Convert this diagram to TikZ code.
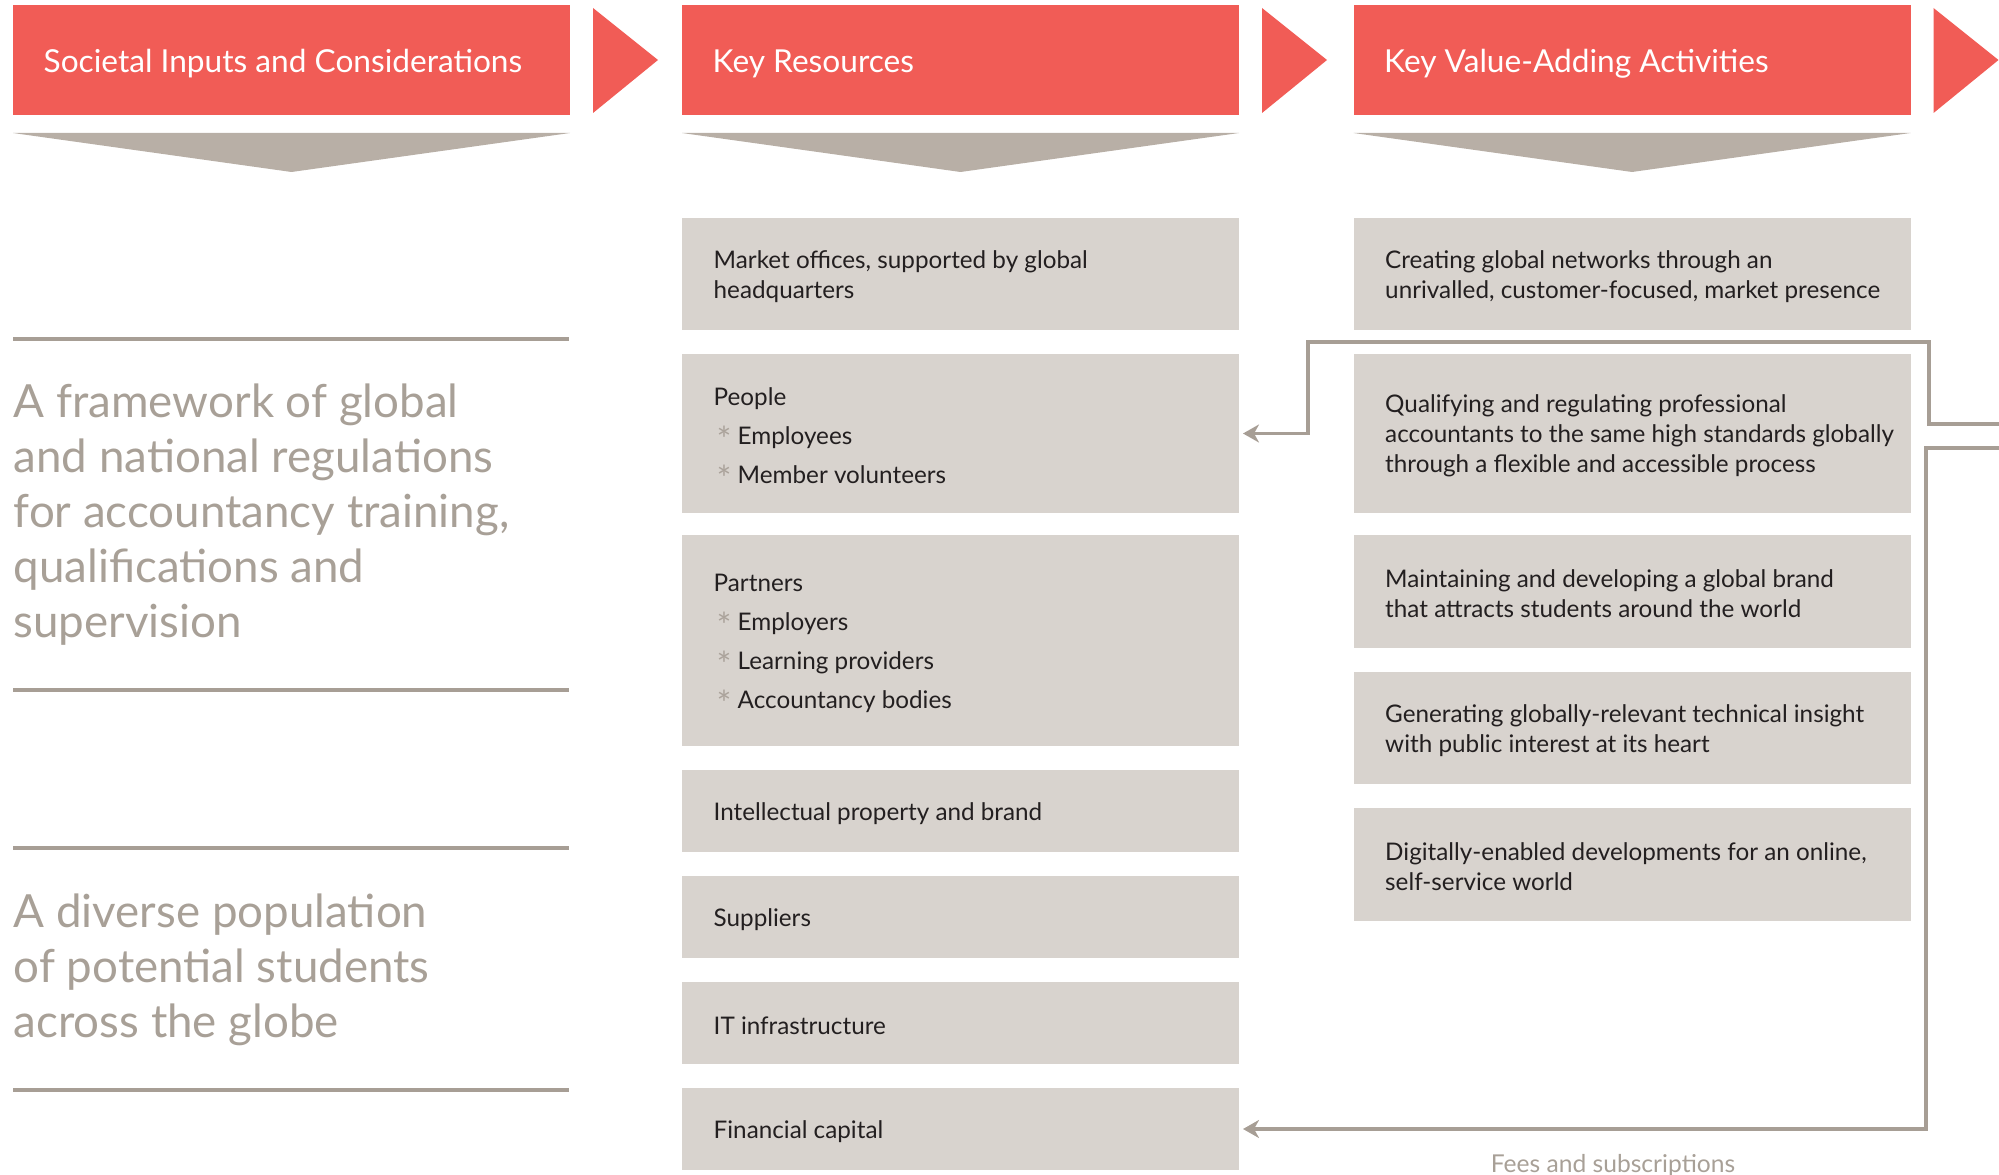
\documentclass[tikz,border=0pt]{standalone}
\usepackage{fontspec}
\setmainfont{Lato}
\usetikzlibrary{arrows.meta,calc,positioning}
\definecolor{headred}{HTML}{F15C56}
\definecolor{boxgrey}{HTML}{D8D3CE}
\definecolor{tricol}{HTML}{B8AFA6}
\definecolor{rulegrey}{HTML}{A79E95}
\definecolor{softgrey}{HTML}{A8A097}
\definecolor{bulletgrey}{HTML}{ABA39B}
\definecolor{ink}{HTML}{231F20}
\newcommand\starbullet{\hspace*{0.3mm}\makebox[2.1mm][l]{\raisebox{-0.65ex}[0pt][0pt]{\textcolor{bulletgrey}{\fontsize{10}{10}\selectfont *}}}}
\tikzset{
  headbox/.style={fill=headred, minimum width=55.7mm, minimum height=11mm, inner sep=0pt, outer sep=0pt},
  headtext/.style={anchor=west, xshift=3mm, yshift=-0.4mm, inner sep=0pt, text=white, font=\fontsize{9}{10}\selectfont},
  cell/.style={fill=boxgrey, minimum width=55.7mm, inner sep=0pt, outer sep=0pt},
  celltext/.style={anchor=west, xshift=3.1mm, yshift=-0.25mm, align=left, inner sep=0pt, text=ink, font=\fontsize{6.9}{8.5}\selectfont},
  listtext/.style={celltext, yshift=0mm, font=\fontsize{6.9}{11.1}\selectfont},
  bigtext/.style={anchor=base west, align=left, inner sep=0pt, text=softgrey, font=\fontsize{13}{15.6}\selectfont},
  rule/.style={draw=rulegrey, line width=0.4mm},
  flow/.style={draw=rulegrey, line width=0.35mm, shorten >=0.4mm, -{Stealth[length=1.6mm,width=1.8mm,inset=0.5mm]}},
}
\begin{document}
\begin{tikzpicture}[x=0.1mm, y=-0.1mm]
  \useasboundingbox (0,0) rectangle (1999,1174);

  %% the three column heads
  \node[headbox] (hsoc) at (291.5,60) {};
  \node[headbox] (hres) at (960.5,60) {};
  \node[headbox] (hval) at (1632,60) {};
  \node[headtext] (hsoct) at (hsoc.west) {Societal Inputs and Considerations};
  \node[headtext] (hrest) at (hres.west) {Key Resources};
  \node[headtext] (hvalt) at (hval.west) {Key Value-Adding Activities};
  \foreach \h in {hsoc,hres,hval}{
    \fill[headred] ($(\h.north east)+(23,3)$) -- ($(\h.east)+(88,0)$) -- ($(\h.south east)+(23,-2)$) -- cycle;
    \fill[tricol] ($(\h.south west)+(0,18)$) -- ($(\h.south east)+(0,18)$) -- ($(\h.south)+(0,57)$) -- cycle;
  }

  %% left column (anchor sits on the last line)
  \foreach \y in {339,690,848,1090}
    \draw[rule] (13,\y) -- (569,\y);
  \node[bigtext] (regs) at (13,637) {A framework of global\\and national regulations\\for accountancy training,\\qualifications and\\supervision};
  \node[bigtext] (pop) at (13,1037) {A diverse population\\of potential students\\across the globe};

  %% key resources
  \node[cell, minimum height=11.2mm] (res1) at (960.5,274) {};
  \node[cell, minimum height=15.9mm, below=2.4mm of res1] (res2) {};
  \node[cell, minimum height=21.1mm, below=2.2mm of res2] (res3) {};
  \node[cell, minimum height=8.2mm, below=2.4mm of res3] (res4) {};
  \node[cell, minimum height=8.2mm, below=2.4mm of res4] (res5) {};
  \node[cell, minimum height=8.2mm, below=2.4mm of res5] (res6) {};
  \node[cell, minimum height=8.2mm, below=2.4mm of res6] (res7) {};
  \node[celltext] (res1t) at (res1.west) {Market offices, supported by global\\headquarters};
  \node[listtext] (res2t) at (res2.west) {People\\\starbullet Employees\\\starbullet Member volunteers};
  \node[listtext] (res3t) at (res3.west) {Partners\\\starbullet Employers\\\starbullet Learning providers\\\starbullet Accountancy bodies};
  \node[celltext] (res4t) at (res4.west) {Intellectual property and brand};
  \node[celltext] (res5t) at (res5.west) {Suppliers};
  \node[celltext] (res6t) at (res6.west) {IT infrastructure};
  \node[celltext] (res7t) at (res7.west) {Financial capital};

  %% key value-adding activities
  \node[cell, minimum height=11.2mm] (act1) at (1632,274) {};
  \node[cell, minimum height=15.9mm, below=2.4mm of act1] (act2) {};
  \node[cell, minimum height=11.3mm, below=2.2mm of act2] (act3) {};
  \node[cell, minimum height=11.2mm, below=2.4mm of act3] (act4) {};
  \node[cell, minimum height=11.3mm, below=2.4mm of act4] (act5) {};
  \node[celltext] (act1t) at (act1.west) {Creating global networks through an\\unrivalled, customer-focused, market presence};
  \node[celltext] (act2t) at (act2.west) {Qualifying and regulating professional\\accountants to the same high standards globally\\through a flexible and accessible process};
  \node[celltext] (act3t) at (act3.west) {Maintaining and developing a global brand\\that attracts students around the world};
  \node[celltext] (act4t) at (act4.west) {Generating globally-relevant technical insight\\with public interest at its heart};
  \node[celltext] (act5t) at (act5.west) {Digitally-enabled developments for an online,\\self-service world};

  %% flows coming back in from the right
  \coordinate (in1) at (1999,424);
  \coordinate (in2) at (1999,448);
  \draw[flow] (in1) -- (1929,424) |- (1308,342) |- (res2.east);
  \draw[flow] (in2) -- (1926,448) |- (res7.east);
  \node[anchor=base, inner sep=0pt, text=softgrey, font=\fontsize{7}{8}\selectfont] (fees) at (1613,1172) {Fees and subscriptions};
\end{tikzpicture}
\end{document}
